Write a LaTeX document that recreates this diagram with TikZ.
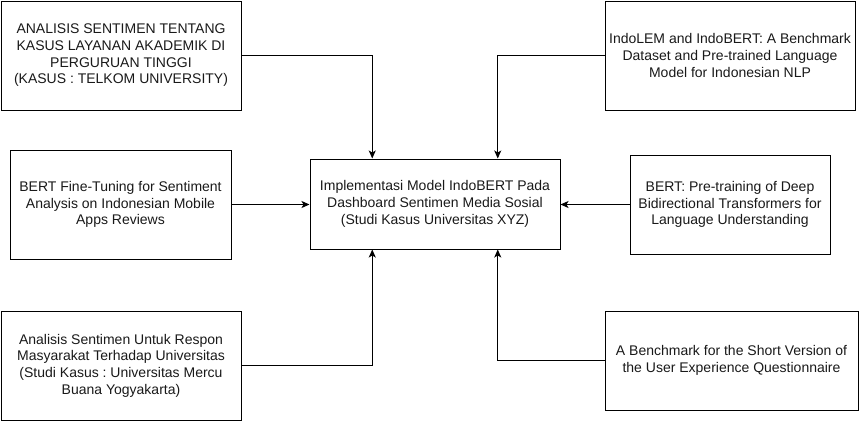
\documentclass[tikz,border=0pt]{standalone}
\usepackage{fontspec}
\setmainfont{Liberation Sans}
\usetikzlibrary{arrows.meta,calc}
\frenchspacing
\begin{document}
\begin{tikzpicture}[x=1pt,y=-1pt,
  box/.style={draw=black,line width=1pt,rectangle,inner sep=0pt,align=center,
    font=\fontsize{14}{16.7}\selectfont,text=black!90},
  arr/.style={draw=black,line width=1pt,-{Stealth[length=8pt,width=7pt,inset=2pt]}}]
\useasboundingbox (0,0) rectangle (861,421);
\node[box,minimum width=240pt,minimum height=109pt] (b1) at (121,55.5)
  {ANALISIS SENTIMEN TENTANG\\KASUS LAYANAN AKADEMIK DI\\PERGURUAN TINGGI\\(KASUS : TELKOM UNIVERSITY)};
\node[box,minimum width=250pt,minimum height=109pt] (b2) at (730,55.5)
  {IndoLEM and IndoBERT: A Benchmark\\Dataset and Pre-trained Language\\Model for Indonesian NLP};
\node[box,minimum width=221pt,minimum height=109pt] (b3) at (120.5,204.5)
  {BERT Fine-Tuning for Sentiment\\Analysis on Indonesian Mobile\\Apps Reviews};
\node[box,minimum width=250pt,minimum height=90pt] (c) at (435,204)
  {Implementasi Model IndoBERT Pada\\Dashboard Sentimen Media Sosial\\(Studi Kasus Universitas XYZ)};
\node[box,minimum width=200pt,minimum height=99pt] (b5) at (730,204.5)
  {BERT: Pre-training of Deep\\Bidirectional Transformers for\\Language Understanding};
\node[box,minimum width=240pt,minimum height=109pt] (b6) at (121,365.5)
  {Analisis Sentimen Untuk Respon\\Masyarakat Terhadap Universitas\\(Studi Kasus : Universitas Mercu\\Buana Yogyakarta)};
\node[box,minimum width=253pt,minimum height=99pt] (b7) at (731.5,360.5)
  {A Benchmark for the Short Version of\\the User Experience Questionnaire};
\coordinate (tn1) at ($(c.north west)!0.25!(c.north east)$);
\coordinate (tn2) at ($(c.north west)!0.75!(c.north east)$);
\coordinate (ts1) at ($(c.south west)!0.25!(c.south east)$);
\coordinate (ts2) at ($(c.south west)!0.75!(c.south east)$);
\draw[arr] (b1.east) -| (tn1);
\draw[arr] (b2.west) -| (tn2);
\draw[arr] (b3.east) -- (b3.east -| c.west);
\draw[arr] (b5.west) -- (b5.west -| c.east);
\draw[arr] (b6.east) -| (ts1);
\draw[arr] (b7.west) -| (ts2);
\end{tikzpicture}
\end{document}
